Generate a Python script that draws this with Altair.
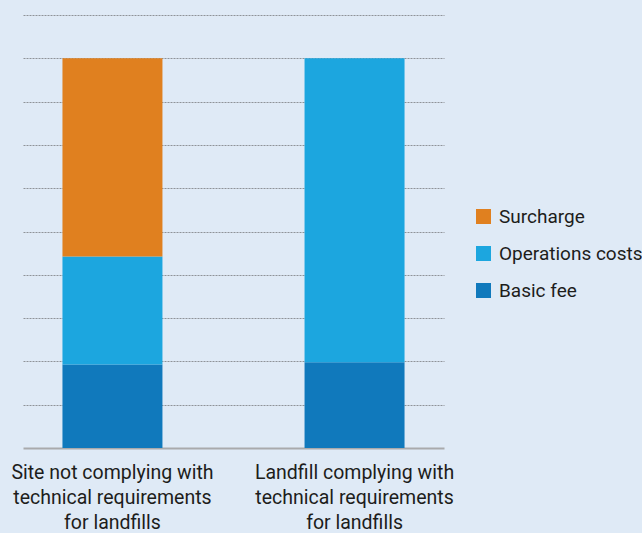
import altair as alt
import pandas as pd

# Landfill fee components per site type
sites = [
    "Site not complying with|technical requirements|for landfills",
    "Landfill complying with|technical requirements|for landfills",
]
components = ["Surcharge", "Operations costs", "Basic fee"]
basic_fee = [1.93, 1.98]
operations_costs = [2.49, 7.02]
surcharge = [4.58, 0.0]

colors = ["#e0801f", "#1ca6df", "#1079bc"]

rows = []
for i, site in enumerate(sites):
    rows.append({"site": site, "component": "Basic fee", "value": basic_fee[i], "stack": 0})
    rows.append({"site": site, "component": "Operations costs", "value": operations_costs[i], "stack": 1})
    if surcharge[i] > 0:
        rows.append({"site": site, "component": "Surcharge", "value": surcharge[i], "stack": 2})
df = pd.DataFrame(rows)

FONT = "Roboto"
TEXT = "#1d1d1b"

bars = alt.Chart(df).mark_bar().encode(
    x=alt.X(
        "site:N",
        sort=sites,
        title=None,
        scale=alt.Scale(paddingInner=0.587, paddingOuter=0.163),
        axis=alt.Axis(
            labelExpr="split(datum.label, '|')",
            labelAngle=0,
            labelFont=FONT,
            labelFontSize=19.5,
            labelColor=TEXT,
            labelLineHeight=25,
            labelLimit=0,
            labelPadding=15,
            ticks=False,
            domain=True,
            domainColor="#a9aaac",
            domainWidth=2,
            grid=False,
        ),
    ),
    y=alt.Y(
        "value:Q",
        stack="zero",
        title=None,
        scale=alt.Scale(domain=[0, 10], nice=False),
        axis=alt.Axis(
            values=list(range(1, 11)),
            labels=False,
            ticks=False,
            domain=False,
            grid=True,
            gridColor="#8e9398",
            gridDash=[2, 1],
            gridWidth=1,
        ),
    ),
    color=alt.Color(
        "component:N",
        sort=components,
        scale=alt.Scale(domain=components, range=colors),
        legend=alt.Legend(
            title=None,
            orient="none",
            legendX=451,
            legendY=192,
            symbolType="square",
            symbolSize=225,
            symbolStrokeWidth=0,
            symbolOpacity=1,
            labelFont=FONT,
            labelFontSize=19,
            labelColor=TEXT,
            labelOffset=6,
            labelLimit=0,
            rowPadding=17,
        ),
    ),
    order=alt.Order("stack:Q", sort="ascending"),
)

chart = bars.properties(
    width=421,
    height=433,
    background="#dfeaf6",
    padding={"left": 23, "top": 15, "right": 198, "bottom": 85},
    autosize=alt.AutoSizeParams(type="none"),
).configure_view(stroke=None)

chart.save("out.html", embed_options={"renderer": "svg", "actions": False})
